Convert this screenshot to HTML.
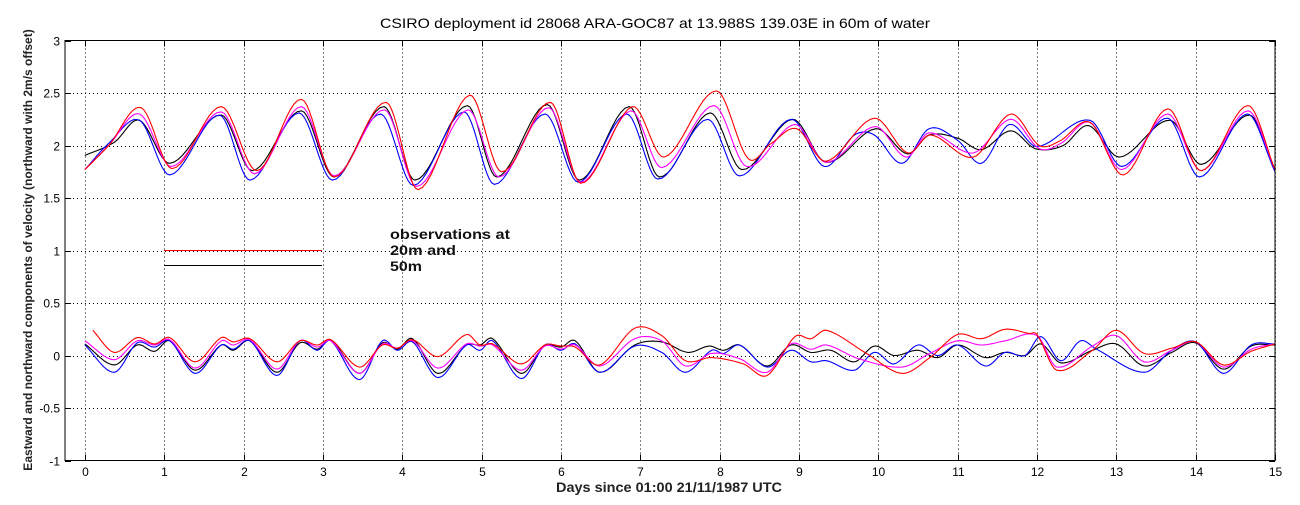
<!DOCTYPE html>
<html><head><meta charset="utf-8">
<style>
html,body{margin:0;padding:0;background:#fff;}
body{width:1300px;height:500px;overflow:hidden;font-family:"Liberation Sans",sans-serif;}
svg text{font-family:"Liberation Sans",sans-serif;}
</style></head>
<body>
<svg id="chart" width="1300" height="500" viewBox="0 0 1300 500" xmlns="http://www.w3.org/2000/svg">
<rect x="0" y="0" width="1300" height="500" fill="#fff"/>
<g id="grid"></g>
<g id="series"></g>
<rect x="65" y="40.5" width="1210" height="420" fill="none" stroke="#000" stroke-width="1"/>
<g id="ticks"></g>
<text x="380" y="28" font-size="14" textLength="550" lengthAdjust="spacingAndGlyphs">CSIRO deployment id 28068 ARA-GOC87 at 13.988S 139.03E in 60m of water</text>
<text x="556" y="492" font-size="14" font-weight="bold" fill="#222" textLength="226" lengthAdjust="spacingAndGlyphs">Days since 01:00 21/11/1987 UTC</text>
<text transform="translate(32,250) rotate(-90)" font-size="12" text-anchor="middle" font-weight="bold" fill="#222">Eastward  and northward components of velocity (northward with 2m/s offset)</text>
<line x1="164" y1="250.5" x2="322" y2="250.5" stroke="#f00" stroke-width="1"/>
<line x1="164" y1="265.5" x2="322" y2="265.5" stroke="#000" stroke-width="1"/>
<text font-size="14" font-weight="600" fill="#111"><tspan x="390" y="239" textLength="120" lengthAdjust="spacingAndGlyphs">observations at</tspan><tspan x="390" y="255" textLength="66" lengthAdjust="spacingAndGlyphs">20m and</tspan><tspan x="390" y="271" textLength="32" lengthAdjust="spacingAndGlyphs">50m</tspan></text>
</svg>
<script>
const xTicks=[0,1,2,3,4,5,6,7,8,9,10,11,12,13,14,15];
const yTicks=[-1,-0.5,0,0.5,1,1.5,2,2.5,3];
const yTickLabels=["-1","-0.5","0","0.5","1","1.5","2","2.5","3"];

const redUpD=[0,0.3,0.71,1.1,1.72,2.17,2.73,3.14,3.8,4.2,4.85,5.25,5.87,6.25,6.9,7.3,7.96,8.36,8.65,8.97,9.34,9.95,10.37,10.66,11.2,11.67,12.03,12.28,12.67,13.09,13.65,14.07,14.66,15];
const redUpV=[1.77,2.0,2.36,1.78,2.37,1.76,2.44,1.70,2.41,1.58,2.48,1.75,2.41,1.64,2.37,1.89,2.52,1.875,2.02,2.16,1.85,2.26,1.93,2.10,1.89,2.30,2.0,2.04,2.22,1.72,2.35,1.76,2.38,1.77];
const magUpD=[0,0.3,0.69,1.09,1.72,2.14,2.73,3.14,3.78,4.18,4.83,5.22,5.85,6.25,6.88,7.27,7.93,8.34,8.95,9.34,9.96,10.35,10.64,11.2,11.67,12.03,12.3,12.67,13.07,13.65,14.07,14.66,15];
const magUpV=[1.77,2.0,2.30,1.80,2.32,1.73,2.37,1.71,2.34,1.61,2.34,1.70,2.36,1.65,2.33,1.79,2.38,1.80,2.20,1.84,2.18,1.89,2.12,1.93,2.25,1.97,2.02,2.22,1.77,2.30,1.76,2.33,1.77];
const bluUpD=[0,0.3,0.69,1.07,1.7,2.08,2.7,3.12,3.73,4.14,4.78,5.16,5.8,6.22,6.83,7.22,7.85,8.25,8.9,9.32,9.7,9.95,10.3,10.64,11.0,11.3,11.65,12.0,12.67,13.07,13.65,14.05,14.65,15];
const bluUpV=[1.77,2.02,2.24,1.72,2.29,1.67,2.31,1.67,2.30,1.62,2.32,1.63,2.30,1.65,2.30,1.68,2.25,1.71,2.25,1.80,2.10,2.10,1.83,2.16,2.05,1.83,2.20,1.99,2.24,1.80,2.26,1.70,2.30,1.75];
const blkUpD=[0,0.37,0.69,1.07,1.72,2.11,2.73,3.14,3.77,4.16,4.82,5.19,5.83,6.23,6.86,7.24,7.88,8.28,8.92,9.34,9.97,10.37,10.64,11.0,11.3,11.67,11.98,12.33,12.65,13.04,13.68,14.07,14.68,15];
const blkUpV=[1.905,2.03,2.24,1.83,2.29,1.76,2.33,1.70,2.37,1.67,2.38,1.70,2.39,1.67,2.37,1.70,2.31,1.77,2.25,1.84,2.16,1.92,2.10,2.07,1.96,2.14,1.97,2.0,2.19,1.89,2.24,1.82,2.29,1.77];

const redLoD=[0.1,0.37,0.66,0.88,1.07,1.39,1.72,1.87,2.08,2.42,2.71,2.93,3.1,3.46,3.75,3.94,4.13,4.45,4.81,4.98,5.14,5.5,5.8,6.0,6.18,6.49,6.93,7.27,7.57,7.9,8.3,8.6,8.95,9.15,9.35,9.85,10.3,10.65,11.0,11.3,11.6,11.9,12.0,12.25,12.7,13.0,13.35,13.7,14.0,14.35,14.7,15];
const redLoV=[0.24,0.03,0.17,0.11,0.17,-0.06,0.17,0.13,0.16,-0.06,0.14,0.10,0.15,-0.11,0.10,0.07,0.15,-0.01,0.20,0.10,0.11,-0.08,0.10,0.09,0.08,-0.09,0.26,0.19,-0.05,-0.02,-0.08,-0.19,0.18,0.16,0.24,0.02,-0.17,-0.02,0.20,0.16,0.25,0.21,0.20,-0.14,0.05,0.24,0.02,0.07,0.13,-0.09,0.04,0.11];
const magLoD=[0,0.37,0.66,0.88,1.07,1.39,1.72,1.87,2.08,2.42,2.71,2.93,3.1,3.46,3.75,3.94,4.13,4.45,4.81,4.98,5.14,5.5,5.8,6.0,6.18,6.49,6.93,7.27,7.57,7.9,8.25,8.6,8.9,9.15,9.35,9.75,10.3,10.65,11.0,11.3,11.6,12.0,12.25,12.7,13.0,13.35,13.7,14.0,14.35,14.7,15];
const magLoV=[0.14,-0.04,0.14,0.10,0.15,-0.12,0.14,0.10,0.15,-0.13,0.14,0.08,0.14,-0.17,0.11,0.07,0.14,-0.12,0.11,0.09,0.10,-0.14,0.09,0.06,0.10,-0.10,0.16,0.14,-0.10,0.02,-0.03,-0.16,0.11,0.06,0.10,-0.03,-0.11,0.02,0.14,0.10,0.14,0.19,-0.11,0.09,0.19,-0.06,0.05,0.13,-0.11,0.06,0.11];
const bluLoD=[0,0.37,0.66,0.88,1.07,1.39,1.72,1.87,2.08,2.42,2.71,2.93,3.1,3.46,3.75,3.94,4.13,4.45,4.81,4.98,5.14,5.5,5.8,6.0,6.18,6.49,6.93,7.27,7.57,7.9,8.05,8.25,8.6,8.9,9.15,9.35,9.7,9.95,10.2,10.5,10.75,11.0,11.35,11.6,11.85,12.05,12.3,12.55,12.75,13.35,13.7,14.0,14.35,14.7,15];
const bluLoV=[0.10,-0.16,0.12,0.08,0.14,-0.17,0.10,0.06,0.14,-0.19,0.14,0.05,0.14,-0.23,0.14,0.05,0.13,-0.21,0.10,0.05,0.14,-0.22,0.10,0.05,0.11,-0.16,0.09,0.03,-0.16,0.05,0.02,0.10,-0.11,0.05,-0.06,-0.05,-0.14,0.03,-0.08,0.10,0.0,0.10,-0.10,0.03,0.0,0.18,-0.05,0.14,0.06,-0.16,0.05,0.13,-0.17,0.10,0.11];
const blkLoD=[0,0.37,0.66,0.88,1.07,1.39,1.72,1.87,2.08,2.42,2.71,2.93,3.1,3.46,3.75,3.94,4.13,4.45,4.81,4.98,5.14,5.5,5.8,6.0,6.18,6.49,6.93,7.27,7.6,7.87,8.05,8.25,8.6,8.9,9.15,9.4,9.7,9.95,10.2,10.5,10.75,11.0,11.35,11.6,11.85,12.05,12.3,12.7,13.0,13.35,13.7,14.0,14.35,14.7,15];
const blkLoV=[0.11,-0.09,0.10,0.04,0.14,-0.14,0.10,0.05,0.14,-0.16,0.12,0.06,0.15,-0.17,0.12,0.06,0.16,-0.17,0.10,0.10,0.16,-0.17,0.10,0.08,0.14,-0.16,0.10,0.13,0.03,0.09,0.05,0.10,-0.10,0.10,0.03,0.05,-0.06,0.09,0.0,0.05,-0.02,0.10,-0.02,0.03,0.0,0.11,-0.07,0.05,0.11,-0.10,0.03,0.12,-0.13,0.09,0.10];

const X0=65,X1=1275,Y0=40.5,Y1=460.5,XMIN=-0.25,XMAX=15,YMIN=-1,YMAX=3;
function xs(d){return X0+(d-XMIN)/(XMAX-XMIN)*(X1-X0);}
function ys(v){return Y1-(v-YMIN)/(YMAX-YMIN)*(Y1-Y0);}
const NS="http://www.w3.org/2000/svg";
function mk(tag,parent){const e=document.createElementNS(NS,tag);parent.appendChild(e);return e;}
const grid=document.getElementById('grid'),ticks=document.getElementById('ticks'),series=document.getElementById('series');
xTicks.forEach(function(t){
  const x=Math.round(xs(t))+0.5;
  const g=mk('line',grid);
  
  
  g.setAttribute('x1',x);g.setAttribute('x2',x);g.setAttribute('y1',Y0);g.setAttribute('y2',Y1);
  g.setAttribute('stroke','#000');g.setAttribute('stroke-dasharray','1 3');
  [[Y0,Y0+6],[Y1,Y1-6]].forEach(function(p){
    const l=mk('line',ticks);
    
    
    l.setAttribute('x1',x);l.setAttribute('x2',x);l.setAttribute('y1',p[0]);l.setAttribute('y2',p[1]);l.setAttribute('stroke','#000');
  });
  const tx=mk('text',ticks);
  
  
  tx.setAttribute('x',x);tx.setAttribute('y',476);tx.setAttribute('font-size','12');tx.setAttribute('text-anchor','middle');
  tx.textContent=String(t);
});
yTicks.forEach(function(t,i){
  const y=Math.round(ys(t))+0.5;
  if(t>YMIN&&t<YMAX){
    const g=mk('line',grid);
    
    
    g.setAttribute('x1',X0);g.setAttribute('x2',X1);g.setAttribute('y1',y);g.setAttribute('y2',y);
    g.setAttribute('stroke','#000');g.setAttribute('stroke-dasharray','1 3');
  }
  [[X0,X0+6],[X1,X1-6]].forEach(function(p){
    const l=mk('line',ticks);
    
    
    l.setAttribute('x1',p[0]);l.setAttribute('x2',p[1]);l.setAttribute('y1',y);l.setAttribute('y2',y);l.setAttribute('stroke','#000');
  });
  const tx=mk('text',ticks);
  
  
  tx.setAttribute('x',60);tx.setAttribute('y',y+4);tx.setAttribute('font-size','12');tx.setAttribute('text-anchor','end');
  tx.textContent=yTickLabels[i];
});
function smoothPath(D,V){
  const n=D.length,m=[];
  for(let i=0;i<n;i++){
    if(i===0)m.push((V[1]-V[0])/(D[1]-D[0]));
    else if(i===n-1)m.push((V[n-1]-V[n-2])/(D[n-1]-D[n-2]));
    else m.push((V[i+1]-V[i-1])/(D[i+1]-D[i-1]));
  }
  let s='M'+xs(D[0]).toFixed(1)+','+ys(V[0]).toFixed(1);
  for(let i=0;i<n-1;i++){
    const h=D[i+1]-D[i];
    for(let k=1;k<=12;k++){
      const t=k/12,t2=t*t,t3=t2*t;
      const v=(2*t3-3*t2+1)*V[i]+(t3-2*t2+t)*h*m[i]+(-2*t3+3*t2)*V[i+1]+(t3-t2)*h*m[i+1];
      s+='L'+xs(D[i]+t*h).toFixed(1)+','+ys(v).toFixed(1);
    }
  }
  return s;
}
function addSeries(D,V,color,name){
  const p=mk('path',series);
  
  
  p.setAttribute('d',smoothPath(D,V));
  p.setAttribute('fill','none');p.setAttribute('stroke',color);p.setAttribute('stroke-width','1.1');
}
addSeries(blkUpD,blkUpV,'#000','northward-50m-line');
addSeries(bluUpD,bluUpV,'#00f','northward-blue-line');
addSeries(magUpD,magUpV,'#f0f','northward-magenta-line');
addSeries(redUpD,redUpV,'#f00','northward-20m-line');
addSeries(blkLoD,blkLoV,'#000','eastward-50m-line');
addSeries(bluLoD,bluLoV,'#00f','eastward-blue-line');
addSeries(magLoD,magLoV,'#f0f','eastward-magenta-line');
addSeries(redLoD,redLoV,'#f00','eastward-20m-line');
</script>
</body></html>
